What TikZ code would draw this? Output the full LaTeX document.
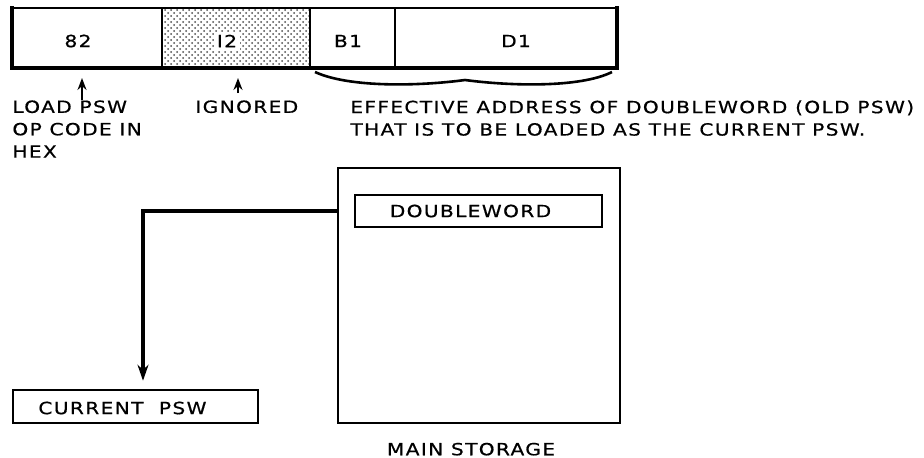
\documentclass[tikz,border=0pt]{standalone}
\usepackage{fontspec}
\newfontfamily\ibmfont{DejaVu Sans}[FakeStretch=1.2, LetterSpace=8, FakeBold=0.6]
\usetikzlibrary{positioning,fit,patterns,arrows.meta}

\begin{document}
\begin{tikzpicture}[x=0.5pt, y=-0.5pt,
        lbl/.style={inner sep=0pt, font=\ibmfont\fontsize{8.4}{11.2}\selectfont, align=left},
        thin/.style={draw=black, line width=0.7pt},
        heavy/.style={draw=black, line width=2pt, line cap=rect},
        box/.style={draw=black, line width=1.2pt, inner sep=0pt},
        ptr/.style={line width=1.1pt, -{Stealth[length=6pt, width=4.5pt, inset=2pt]}},
        flow/.style={line width=1.8pt, -{Stealth[length=8pt, width=5.5pt]}},
        ]
        \useasboundingbox (0,0) rectangle (924,457);

        % LPSW instruction format
        \fill[pattern=crosshatch dots, pattern color=black!70] (162,8) rectangle (310,68);
        \foreach \xa/\xb/\tx/\txt/\nm in {
            12/162/78/82/opfld, 162/310/227/I2/ignfld, 310/395/348/B1/basefld, 395/617/516/D1/dispfld
        } {
            \draw[thin] (\xa,8) rectangle (\xb,68);
            \node[lbl, fill=white, inner sep=1.5pt] (\nm) at (\tx,41) {\txt};
        }
        \draw[heavy] (12,8) -- (12,68) -- (617,68) -- (617,8);

        % brace under B1 and D1
        \draw[line width=1.3pt] (315,72) .. controls (350,88) and (420,86) .. (465,80)
            .. controls (510,86) and (580,88) .. (612,72);

        % notes under the fields
        \node[lbl, anchor=north west] (opnote) at (12,100) {LOAD PSW\\OP CODE IN\\HEX};
        \node[lbl, anchor=north west] (ignnote) at (195,100) {IGNORED};
        \node[lbl, anchor=north west] (eanote) at (350,100) {EFFECTIVE ADDRESS OF DOUBLEWORD (OLD PSW)\\THAT IS TO BE LOADED AS THE CURRENT PSW.};

        \coordinate (optip) at (82,78);
        \coordinate (igntip) at (238,78);
        \draw[ptr] (opnote.north -| optip) -- (optip);
        \draw[ptr, shorten <=3.5pt] (ignnote.north -| igntip) -- (igntip);

        % main storage and the current PSW
        \node[box, line width=1.4pt, fit={(338,168) (620,423)}] (store) {};
        \node[box, line width=1pt, fit={(355,195) (602,227)}] (dword) {};
        \node[lbl] (dwtxt) at ([xshift=-4pt]dword.center) {DOUBLEWORD};
        \node[lbl, below=9pt of store, xshift=-4pt] (storelbl) {MAIN STORAGE};
        \node[box, line width=1.3pt, fit={(13,390) (258,423)}] (cur) {};
        \node[lbl, anchor=west] (curtxt) at (38,408) {CURRENT\ \ PSW};

        \draw[flow, shorten >=4pt] (dword.west -| store.west) -| ([xshift=3.75pt]cur.north);

    \end{tikzpicture}
\end{document}
